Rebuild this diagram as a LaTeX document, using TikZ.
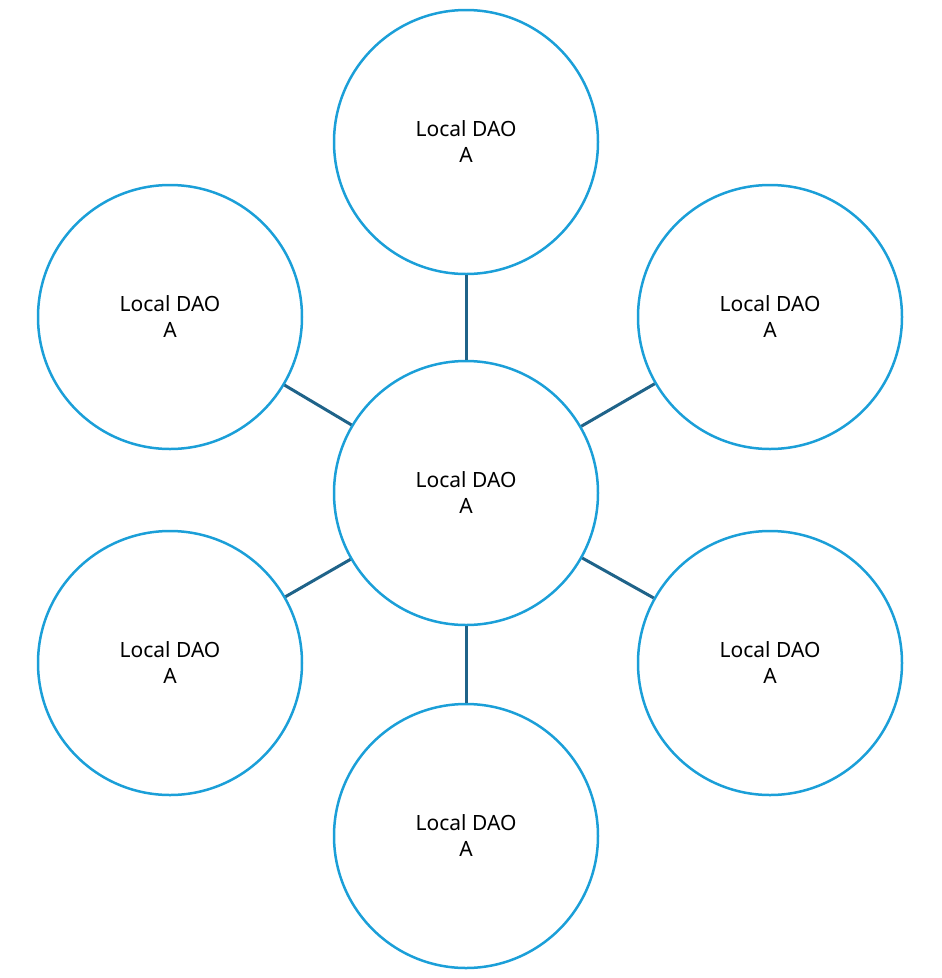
\documentclass[tikz,border=0pt]{standalone}
\usepackage{fontspec}
\setmainfont{Noto Sans}
\usetikzlibrary{calc}
\definecolor{dao}{HTML}{1B9FD8}
\definecolor{enlace}{HTML}{1F6389}

\begin{document}
\begin{tikzpicture}[x=1pt,y=-1pt,
  daonode/.style={circle,draw=dao,line width=2.5pt,minimum size=264pt,inner sep=0pt,
    align=center,font=\fontsize{21}{26}\selectfont},
  enlacelinea/.style={draw=enlace,line width=3pt}]
  \useasboundingbox (0,0) rectangle (942,978);
  % nodo central
  \node[daonode] (C) at (466,493) {Local DAO\\A};
  % nodos locales
  \node[daonode] (T)  at (466,142) {Local DAO\\A};
  \node[daonode] (UL) at (170,317) {Local DAO\\A};
  \node[daonode] (UR) at (770,317) {Local DAO\\A};
  \node[daonode] (LL) at (170,663) {Local DAO\\A};
  \node[daonode] (LR) at (770,663) {Local DAO\\A};
  \node[daonode] (B)  at (466,836) {Local DAO\\A};
  % enlaces
  \foreach \n in {T,UL,UR,LL,LR,B}
    \draw[enlacelinea] (C) -- (\n);
\end{tikzpicture}
\end{document}
